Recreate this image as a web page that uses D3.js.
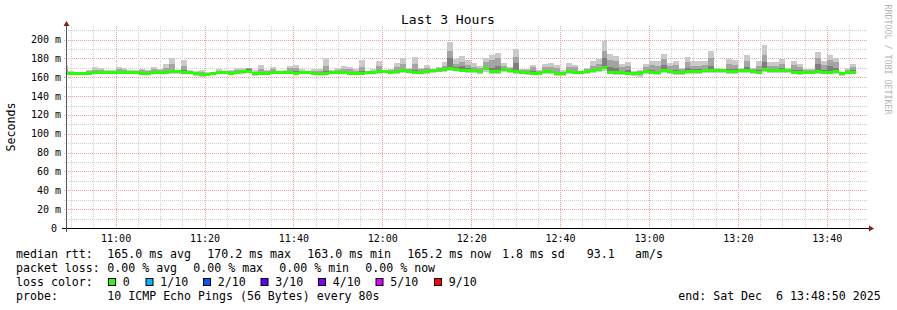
<!DOCTYPE html>
<html>
<head>
<meta charset="utf-8">
<script src="https://cdn.jsdelivr.net/npm/d3@7"></script>
<style>
  body { margin: 0; background: #fff; }
  svg { display: block; font-family: "DejaVu Sans Mono", monospace; }
  text { white-space: pre; }
</style>
</head>
<body>
<svg id="chart" width="897" height="310"></svg>
<script>
// smokeping "Last 3 Hours" graph, one bin every 80s (10 pings per bin)
const stepSec = 80;
const firstBin = new Date(2025, 11, 6, 10, 48, 0);

// median rtt per bin (ms)
const medianMs = [
  164.3,164.0,164.0,164.2,164.5,165.2,165.5,165.0,165.0,165.3,
  165.5,165.0,164.8,164.0,164.0,165.0,165.5,165.5,166.0,166.0,
  165.5,165.0,163.5,163.0,163.2,164.5,165.0,165.0,164.5,165.5,
  166.0,166.5,163.5,163.8,164.5,165.0,165.0,165.0,164.8,164.5,
  165.0,165.0,164.5,164.2,164.5,165.0,165.0,165.3,164.5,164.0,
  164.5,165.0,165.5,166.0,166.5,165.5,166.0,167.0,166.5,165.5,
  165.5,166.0,167.0,167.5,168.0,169.0,168.5,167.5,167.5,167.0,
  166.5,169.0,166.0,166.5,168.0,167.5,166.0,165.5,165.0,164.5,
  164.5,166.5,166.5,164.0,164.0,166.0,165.3,165.3,166.5,167.5,
  168.0,170.2,165.5,165.0,165.0,164.5,164.0,164.0,166.5,165.5,
  165.0,167.5,166.0,165.0,165.0,166.0,166.5,166.5,167.0,167.0,
  167.5,167.0,166.5,166.5,167.0,167.5,166.0,165.5,168.5,167.5,
  167.0,167.0,167.0,165.5,165.5,165.5,165.5,166.5,165.5,165.5,
  166.0,163.5,165.5,165.2
];
// slowest ping per bin
const maxMs = [
  173,166.5,166,166,167.5,170.5,169.5,167.5,167.5,171,
  169.5,167.5,167.5,169,167.5,171,168.5,174,180,167.5,
  178,167.5,166.5,167.5,165.5,165.5,168.5,167,167.5,169.5,
  169.5,170,167.5,173,167.5,171,165.5,167.5,172,173.5,
  168.5,165.5,168.5,168.5,180,167.5,169.5,172,171,168.5,
  178,166.7,168.5,177,166.7,169,174.8,180,170,181.5,
  170,172.7,167.5,171,176,197.5,179.5,182.5,178,175.5,
  172,180,183.7,185.4,175.5,171,190.3,168.5,169,172.7,
  167.5,173.7,174.8,172.7,167.5,174.8,172.7,166.7,169.5,177.3,
  179,198.5,184.4,182.6,173.7,176.2,166.7,167.4,173.7,177.3,
  177.3,184.4,175.5,177.3,170.2,182,177.3,177.3,177.3,188,
  170.2,168.4,179,178.3,170.2,183.3,170.2,177.3,194,176.2,
  176.2,179.7,170.2,177.3,173.7,168.4,169.1,187.2,177.3,183.7,
  180.8,165.6,170,174
];
// 9th of 10 pings
const p9Ms = [
  169,165.5,165.5,165.5,166.5,168,168,166.5,166.5,168.5,
  168,166.5,166.5,167.5,166.5,169,167.5,170,174,166.5,
  172,166.5,165.5,166,164.5,165.5,167,166,166.5,168,
  168,169.5,166,169,166.5,169,165.3,166.5,169.5,170,
  167,165.3,167,167,172,166.5,168,169,168.5,167,
  171,166,167,172,166.5,168,171,174,168.5,174,
  168.5,170,168.5,170,172,188,174,176,173,171,
  170,176,178,180,172,170,182,167.5,168,170.5,
  166.5,171,171,170,166,171,170.5,166.2,168.5,172,
  174,188,178,177,171,172,165.5,166.5,171,173,
  172,179,172,173,169,176,172,172,173,180,
  169,168,174,173,169,177,168.5,172,184,172,
  172,174,169,173,171,167.5,168,180,173,178,
  176,165,168,171
];
// 8th of 10 pings
const p8Ms = [
  165.5,165,165,165,165.5,166.3,166.5,166,166,166.5,
  166.5,166,165.8,165.2,165,166,166.5,167,168,167,
  167.5,166,164.6,164.2,164.2,165.2,166,166,165.5,166.5,
  167,168.5,164.8,165.5,165.5,166,165.2,166,166.5,166.5,
  166,165.2,165.5,165.2,167,166,166.2,166.8,165.5,165,
  166.5,165.8,166.5,167.5,167.5,166.5,167.5,169,167.5,168,
  166.5,167.5,168,169,170,180,171,172,170,169,
  168,171,170,172,169.5,168.5,175,166.5,166,166.5,
  165.5,168,168,166,165,167.5,167,166.2,167.5,169,
  170,180,171,170,167,168,165,165.2,168,167.5,
  167,173,168,168,166.2,170,168.5,168.5,169,172,
  168.5,168,169,169,168,171,167,167.5,176,169,
  168.5,169.5,168,168,167.5,166.5,166.8,174,168,172,
  170,164.5,166.5,167.5
];
// 2nd of 10 pings
const p2Ms = [
  163.5,163.2,163.2,163.4,163.6,164.3,164.5,164.2,164.2,164.5,
  164.6,164.2,164,163.2,163.3,164.2,164.6,164.6,165.2,165.1,
  164.6,164.2,162.6,161.8,162.4,163.7,164.2,164.2,163.7,164.6,
  165.1,165.6,162.6,163,163.7,164.2,164.2,164.2,164,163.7,
  164.2,164.2,163.7,163.4,163.7,164.2,164.2,164.5,163.7,163.2,
  163.7,164.2,164.6,165.1,165.6,164.6,165.1,166,165.6,164.6,
  164.6,165.1,166,166.5,167,167.8,167.5,166.5,166.5,166,
  165.5,167.8,165,165.5,167,166.5,165,164.5,164,163.5,
  163.5,165.5,165.5,163,163,165,164.3,164.3,165.5,166.5,
  167,168.8,164.5,164,164,163.5,163,162.8,165.5,164.5,
  164,166.5,165,164,164,165,165.5,165.5,166,166,
  166.5,166,165.5,165.5,166,166.5,165,164.5,167.5,166.5,
  166,166,166,164.5,164.5,164.5,164.5,165.5,164.5,164.5,
  165,162.5,164.5,164.2
];
// fastest ping per bin
const minMs = [
  162.5,162.3,162.3,162.5,162.7,163.2,163.5,163.3,163.2,163.6,
  163.6,163.2,163,162.2,162.3,163.2,163.6,163.5,164,164,
  163.5,163.2,161.2,160,161,162.7,163,163.2,162.7,163.6,
  164,164.5,161.5,162,162.7,163.2,163.2,163.2,163,162.5,
  163.2,163.2,162.7,162.3,162.7,163.2,163.2,163.5,162.7,162.2,
  162.7,163.2,163.6,164,164.5,163.6,164,165,164.5,163.5,
  163.5,164,165,165.5,166,166.5,166.3,165.5,165,164.5,
  164,166,163.5,164,165.5,165,163.5,163,162.5,162,
  162,164,164,161.5,161.5,163.5,163,163,164,165,
  165.5,167,163,162.5,162.5,162,161,160.5,164,163,
  162.5,165,163.5,162.5,162.5,163.5,164,164,164.5,164.5,
  165,164.5,164,164,164.5,165,163.5,163,166,165,
  164.5,164.5,164.5,163,162.5,163,163,164,163,163,
  163.5,161,163,163
];

// axis ticks
const yTicks = [0,20,40,60,80,100,120,140,160,180,200];
const yTickLabels = ["0","20 m","40 m","60 m","80 m","100 m","120 m","140 m","160 m","180 m","200 m"];

// legend
const lossLabels = ["0","1/10","2/10","3/10","4/10","5/10","9/10"];
const lossColors = ["#26ff00","#00b8ff","#0059ff","#5e00ff","#7e00ff","#dd00ff","#ff0000"];
const rttItems = ["165.0 ms avg","170.2 ms max","163.0 ms min","165.2 ms now","1.8 ms sd","93.1","am/s"];
const lossItems = ["0.00 % avg","0.00 % max","0.00 % min","0.00 % now"];

const start = new Date(2025, 11, 6, 10, 48, 50),
    end = new Date(2025, 11, 6, 13, 48, 50);

let plot = {left: 66, right: 866, top: 28, bottom: 228};

let x = d3.scaleTime().domain([start, end]).range([plot.left, plot.right]),
    y = d3.scaleLinear().domain([0, 212.3]).range([plot.bottom, plot.top]),
    svg = d3.select('#chart'),
    crisp = v => Math.round(v) + 0.5;

svg.append('rect').attr('width', 897).attr('height', 310).attr('fill', '#fff');

svg.append('defs').append('clipPath').attr('id', 'plot-clip')
    .append('rect')
    .attr('x', plot.left).attr('y', plot.top)
    .attr('width', plot.right - plot.left).attr('height', plot.bottom - plot.top);

// grid: minor every 10 ms / 5 min, major every 20 ms / 20 min
let grid = svg.append('g').attr('fill', 'none').attr('stroke-dasharray', '1,1');

d3.range(10, 211, 10).forEach(v => {
    let major = v % 20 === 0;
    grid.append('line')
        .attr('x1', plot.left - 2).attr('x2', plot.right + 2)
        .attr('y1', crisp(y(v))).attr('y2', crisp(y(v)))
        .attr('stroke', major ? '#eda0a0' : '#cfcfcf');
});

d3.timeMinute.every(5).range(start, end).forEach(t => {
    let major = t.getMinutes() % 20 === 0;
    grid.append('line')
        .attr('x1', crisp(x(t))).attr('x2', crisp(x(t)))
        .attr('y1', plot.top - 2).attr('y2', plot.bottom + 2)
        .attr('stroke', major ? '#eda0a0' : '#cfcfcf');
});

// bins
let bins = medianMs.map((m, i) => ({
    t0: d3.timeSecond.offset(firstBin, i * stepSec),
    t1: d3.timeSecond.offset(firstBin, (i + 1) * stepSec),
    med: m, max: maxMs[i], p9: p9Ms[i], p8: p8Ms[i], p2: p2Ms[i], min: minMs[i]
}));

let data = svg.append('g').attr('clip-path', 'url(#plot-clip)').attr('shape-rendering', 'crispEdges');

// smoke layers, light outside to dark near the median
let layers = [
    {lo: d => d.min, hi: d => d.max, color: '#cacaca'},
    {lo: d => d.p2, hi: d => d.p9, color: '#a4a4a4'},
    {lo: d => d.med, hi: d => d.p8, color: '#7e7e7e'}
];

layers.forEach(l => {
    data.append('g').selectAll('rect')
        .data(bins).enter()
        .append('rect')
        .attr('x', d => x(d.t0))
        .attr('width', d => x(d.t1) - x(d.t0))
        .attr('y', d => y(l.hi(d)))
        .attr('height', d => y(l.lo(d)) - y(l.hi(d)))
        .attr('fill', l.color);
});

// median, coloured by loss (all 0 here)
data.append('g').selectAll('rect')
    .data(bins).enter()
    .append('rect')
    .attr('x', d => x(d.t0))
    .attr('width', d => x(d.t1) - x(d.t0))
    .attr('y', d => y(d.med) - 1.5)
    .attr('height', 3)
    .attr('fill', lossColors[0]);

// axes
svg.append('line')
    .attr('x1', plot.left - 4).attr('x2', plot.right + 4)
    .attr('y1', plot.bottom + 0.5).attr('y2', plot.bottom + 0.5)
    .attr('stroke', '#000');
svg.append('line')
    .attr('x1', plot.left + 0.5).attr('x2', plot.left + 0.5)
    .attr('y1', plot.bottom + 4).attr('y2', plot.top - 3)
    .attr('stroke', '#555');

svg.append('path')
    .attr('d', `M${plot.right + 3},${plot.bottom - 2.5}L${plot.right + 8},${plot.bottom + 0.5}L${plot.right + 3},${plot.bottom + 3.5}Z`)
    .attr('fill', '#8b1a1a');
svg.append('path')
    .attr('d', `M${plot.left - 2.5},${plot.top - 2}L${plot.left + 0.5},${plot.top - 7}L${plot.left + 3.5},${plot.top - 2}Z`)
    .attr('fill', '#8b1a1a');

// y labels
svg.append('g').selectAll('text')
    .data(yTicks).enter()
    .append('text')
    .attr('x', (d, i) => i === 0 ? 57 : 61)
    .attr('y', d => y(d) + 3.5)
    .attr('text-anchor', 'end')
    .attr('font-size', 10)
    .text((d, i) => yTickLabels[i]);

// x labels
svg.append('g').selectAll('text')
    .data(d3.timeMinute.every(20).range(start, end)).enter()
    .append('text')
    .attr('x', d => x(d) + 0.5)
    .attr('y', 242)
    .attr('text-anchor', 'middle')
    .attr('font-size', 10)
    .text(d3.timeFormat('%H:%M'));

// title
svg.append('text')
    .attr('x', 448).attr('y', 24)
    .attr('text-anchor', 'middle')
    .attr('font-size', 13)
    .text('Last 3 Hours');

// y axis title
svg.append('text')
    .attr('transform', 'translate(15,127) rotate(-90)')
    .attr('text-anchor', 'middle')
    .attr('font-size', 11.6)
    .text('Seconds');

// watermark
svg.append('text')
    .attr('transform', 'translate(885,4.5) rotate(90)')
    .attr('font-size', 8.3)
    .attr('fill', '#b4b4b4')
    .text('RRDTOOL / TOBI OETIKER');

// legend
let legend = svg.append('g').attr('font-size', 11.6),
    addText = (tx, ty, s) => legend.append('text').attr('x', tx).attr('y', ty).text(s);

addText(16, 258, 'median rtt:');
[107.3, 207.3, 307.3, 407.3, 502, 586.7, 635].forEach((tx, i) => addText(tx, 258, rttItems[i]));

addText(16, 272, 'packet loss:');
[107.3, 193.3, 279.3, 365.3].forEach((tx, i) => addText(tx, 272, lossItems[i]));

addText(16, 286, 'loss color:');
[108.5, 146, 203.5, 261, 318.5, 376, 434.5].forEach((bx, i) => {
    legend.append('rect')
        .attr('x', bx).attr('y', 278.5)
        .attr('width', 7).attr('height', 7)
        .attr('fill', lossColors[i])
        .attr('stroke', '#000');
    addText(bx + 14.3, 286, lossLabels[i]);
});

addText(16, 300, 'probe:');
addText(107.3, 300, '10 ICMP Echo Pings (56 Bytes) every 80s');
addText(678.3, 300, 'end: Sat Dec  6 13:48:50 2025');
</script>
</body>
</html>
